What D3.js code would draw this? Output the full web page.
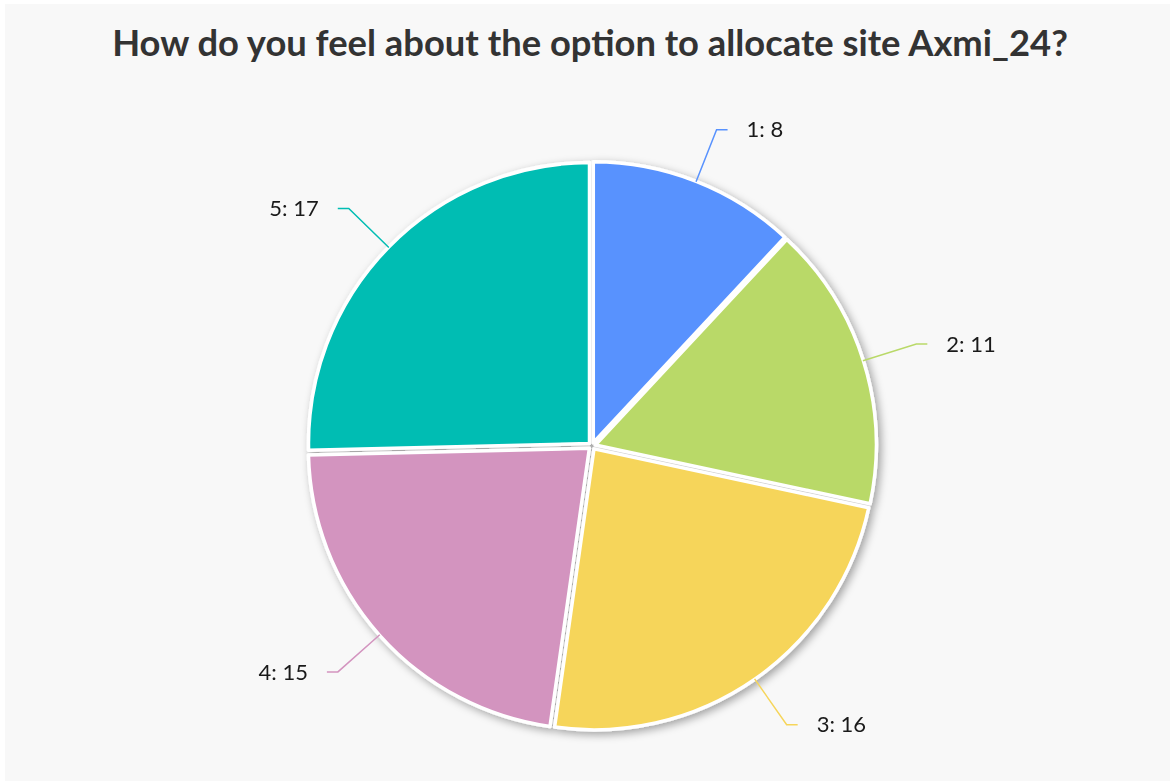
<!DOCTYPE html>
<html>
<head>
<meta charset="utf-8">
<script src="https://cdn.jsdelivr.net/npm/d3@7"></script>
<style>
  html, body { margin: 0; padding: 0; background: #fff; }
  svg { display: block; }
</style>
</head>
<body>
<div id="chart"></div>
<script>
const categories = ['1', '2', '3', '4', '5'];
const values = [8, 11, 16, 15, 17];
const colors = ['#5892fe', '#b9d968', '#f6d55a', '#d394bf', '#00bdb3'];
const title = 'How do you feel about the option to allocate site Axmi_24?';

const width = 1170, height = 781;
const cx = 592, cy = 446, radius = 281;

const svg = d3.select('#chart')
  .append('svg')
  .attr('width', width)
  .attr('height', height);

svg.append('rect')
  .attr('x', 5).attr('y', 4)
  .attr('width', width - 5).attr('height', height - 4)
  .attr('fill', '#f8f8f8');

const defs = svg.append('defs');
const f = defs.append('filter').attr('id', 'shadow')
  .attr('x', '-10%').attr('y', '-10%').attr('width', '125%').attr('height', '125%');
f.append('feDropShadow')
  .attr('dx', 3).attr('dy', 3).attr('stdDeviation', 4)
  .attr('flood-color', '#000').attr('flood-opacity', 0.35);

// title, sized so it spans the same width as the original
const t = svg.append('text')
  .attr('x', 590).attr('y', 56)
  .attr('text-anchor', 'middle')
  .attr('font-family', 'Lato, "Noto Sans", sans-serif')
  .attr('font-weight', 700)
  .attr('font-size', 34)
  .attr('fill', '#333')
  .text(title);
const tw = t.node().getComputedTextLength();
t.attr('font-size', 34 * 956 / tw);

const pie = d3.pie().sort(null).value(d => d);
const arcs = pie(values);
const arc = d3.arc().innerRadius(0).outerRadius(radius);
const outer = d3.arc().innerRadius(radius * 1.21).outerRadius(radius * 1.21);
const onArc = d3.arc().innerRadius(radius + 3).outerRadius(radius + 3);

const g = svg.append('g')
  .attr('transform', `translate(${cx},${cy})`);

const slices = g.append('g').attr('filter', 'url(#shadow)');
const explode = 3.5;
slices.selectAll('path')
  .data(arcs)
  .join('path')
  .attr('d', arc)
  .attr('transform', d => {
    const a = (d.startAngle + d.endAngle) / 2;
    return `translate(${Math.sin(a) * explode},${-Math.cos(a) * explode})`;
  })
  .attr('fill', (d, i) => colors[i])
  .attr('stroke', '#fff')
  .attr('stroke-width', 3.5)
  .attr('stroke-linejoin', 'round');

// label leader lines
g.selectAll('polyline')
  .data(arcs)
  .join('polyline')
  .attr('fill', 'none')
  .attr('stroke', (d, i) => colors[i])
  .attr('stroke-width', 1.5)
  .attr('points', d => {
    const a = (d.startAngle + d.endAngle) / 2;
    const p0 = onArc.centroid(d);
    const p1 = outer.centroid(d);
    const side = a < Math.PI ? 1 : -1;
    const p2 = [p1[0] + side * 11, p1[1]];
    return [p0, p1, p2].map(p => p.join(',')).join(' ');
  });

g.selectAll('text.lbl')
  .data(arcs)
  .join('text')
  .attr('class', 'lbl')
  .attr('x', d => {
    const a = (d.startAngle + d.endAngle) / 2;
    const side = a < Math.PI ? 1 : -1;
    return outer.centroid(d)[0] + side * 30;
  })
  .attr('y', d => outer.centroid(d)[1])
  .attr('dy', '0.35em')
  .attr('text-anchor', d => (d.startAngle + d.endAngle) / 2 < Math.PI ? 'start' : 'end')
  .attr('font-family', 'Lato, "Noto Sans", sans-serif')
  .attr('font-size', 22)
  .attr('fill', '#1a1a1a')
  .text((d, i) => `${categories[i]}: ${values[i]}`);
</script>
</body>
</html>
